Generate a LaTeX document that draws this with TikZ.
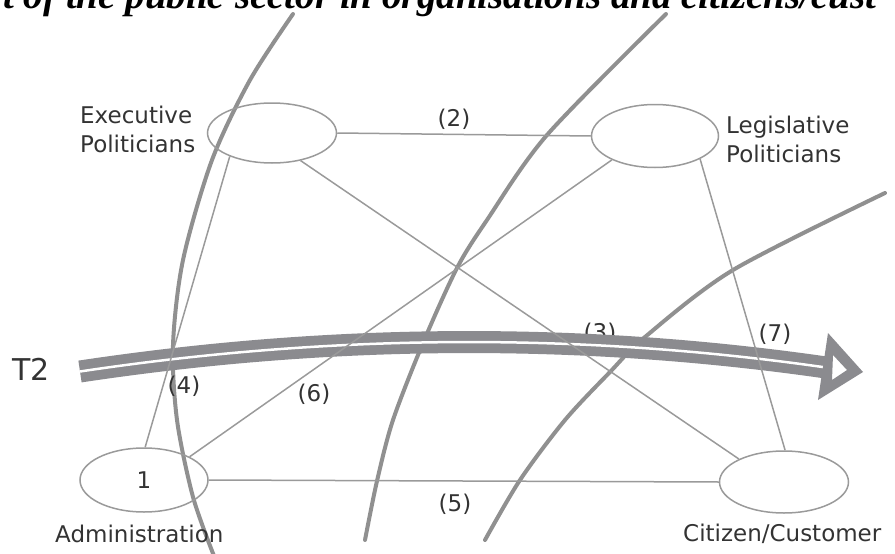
\documentclass[tikz,border=0pt]{standalone}
\usepackage{fontspec}
\setmainfont{DejaVu Sans}
\newfontfamily\titlefont{Liberation Serif}
\usetikzlibrary{shapes.geometric}
\definecolor{linegray}{HTML}{9A9A9A}
\definecolor{arcgray}{HTML}{909090}
\definecolor{bandgray}{HTML}{8B8B8F}
\definecolor{txtgray}{HTML}{333333}
\begin{document}
\begin{tikzpicture}[x=1pt,y=-1pt,
  party/.style={ellipse, draw=linegray, line width=1.5pt, inner sep=0pt, minimum width=128pt, minimum height=62pt, text=txtgray, font=\fontsize{23}{29}\selectfont},
  link/.style={draw=linegray, line width=1.5pt},
  sphere/.style={draw=arcgray, line width=4pt, line cap=round},
  lbl/.style={font=\fontsize{23}{29}\selectfont, text=txtgray, inner sep=0pt},
  num/.style={lbl, anchor=base}]
\useasboundingbox (0,0) rectangle (895,554);
% cut-off heading
\node[anchor=base west, inner sep=0pt, font=\titlefont\bfseries\itshape\fontsize{39}{44}\selectfont] (title) at (3,9) {t of the public sector in organisations and citizens/cust};
% spheres
\draw[sphere] plot[smooth] coordinates {(293,14) (250,80) (212,160) (183,260) (173,345) (177,420) (193,497) (214,556)};
\draw[sphere] plot[smooth] coordinates {(666,14) (547,135) (487,220) (457,268) (423,343) (393,420) (377,481) (365,540)};
\draw[sphere] plot[smooth] coordinates {(885,193) (733,270) (645,337) (610,372) (565,420) (520,480) (485,540)};
% label under the band
\node[num] (n3) at (600,340) {(3)};
% T2 band
\coordinate (t2s) at (80,371.5);
\coordinate (t2e) at (826,367.5);
\draw[bandgray, line width=22pt] (t2s) .. controls (332,333.6) and (581,332.3) .. (t2e);
\draw[white, line width=2.5pt] (t2s) .. controls (332,333.6) and (581,332.3) .. (t2e);
\fill[bandgray, even odd rule] (828,333) -- (863,372) -- (818,400) -- cycle (833,355) -- (847,370) -- (832,380) -- cycle;
\node[font=\fontsize{30}{30}\selectfont, text=txtgray, inner sep=0pt] (t2) at (31,369) {T2};
% actors
\node[party, minimum width=129pt, minimum height=60pt] (exec) at (272,133) {};
\node[party, minimum width=127pt, minimum height=63pt] (legis) at (655,136) {};
\node[party, minimum width=128pt, minimum height=64pt] (admin) at (144,480) {1};
\node[party, minimum width=129pt, minimum height=62pt] (cit) at (784,482) {};
% relations
\draw[link] (exec.0) -- (legis.180);
\draw[link] (exec.-44) -- (cit.153);
\draw[link] (legis.209) -- (admin.27.6);
\draw[link] (exec.209) -- (admin.88);
\draw[link] (legis.-27) -- (cit.88);
\draw[link] (admin.0) -- (cit.180);
% labels
\node[lbl, anchor=base west, align=left] (execlbl) at (80,152) {Executive\\Politicians};
\node[lbl, anchor=base west, align=left] (legislbl) at (726,162) {Legislative\\Politicians};
\node[lbl, anchor=base west] (adminlbl) at (55,542) {Administration};
\node[lbl, anchor=base west] (citlbl) at (683,541) {Citizen/Customer};
\node[num] (n2) at (454,126) {(2)};
\node[num] (n7) at (775,341) {(7)};
\node[num] (n4) at (184,393) {(4)};
\node[num] (n6) at (314,401) {(6)};
\node[num] (n5) at (455,511) {(5)};
\end{tikzpicture}
\end{document}
